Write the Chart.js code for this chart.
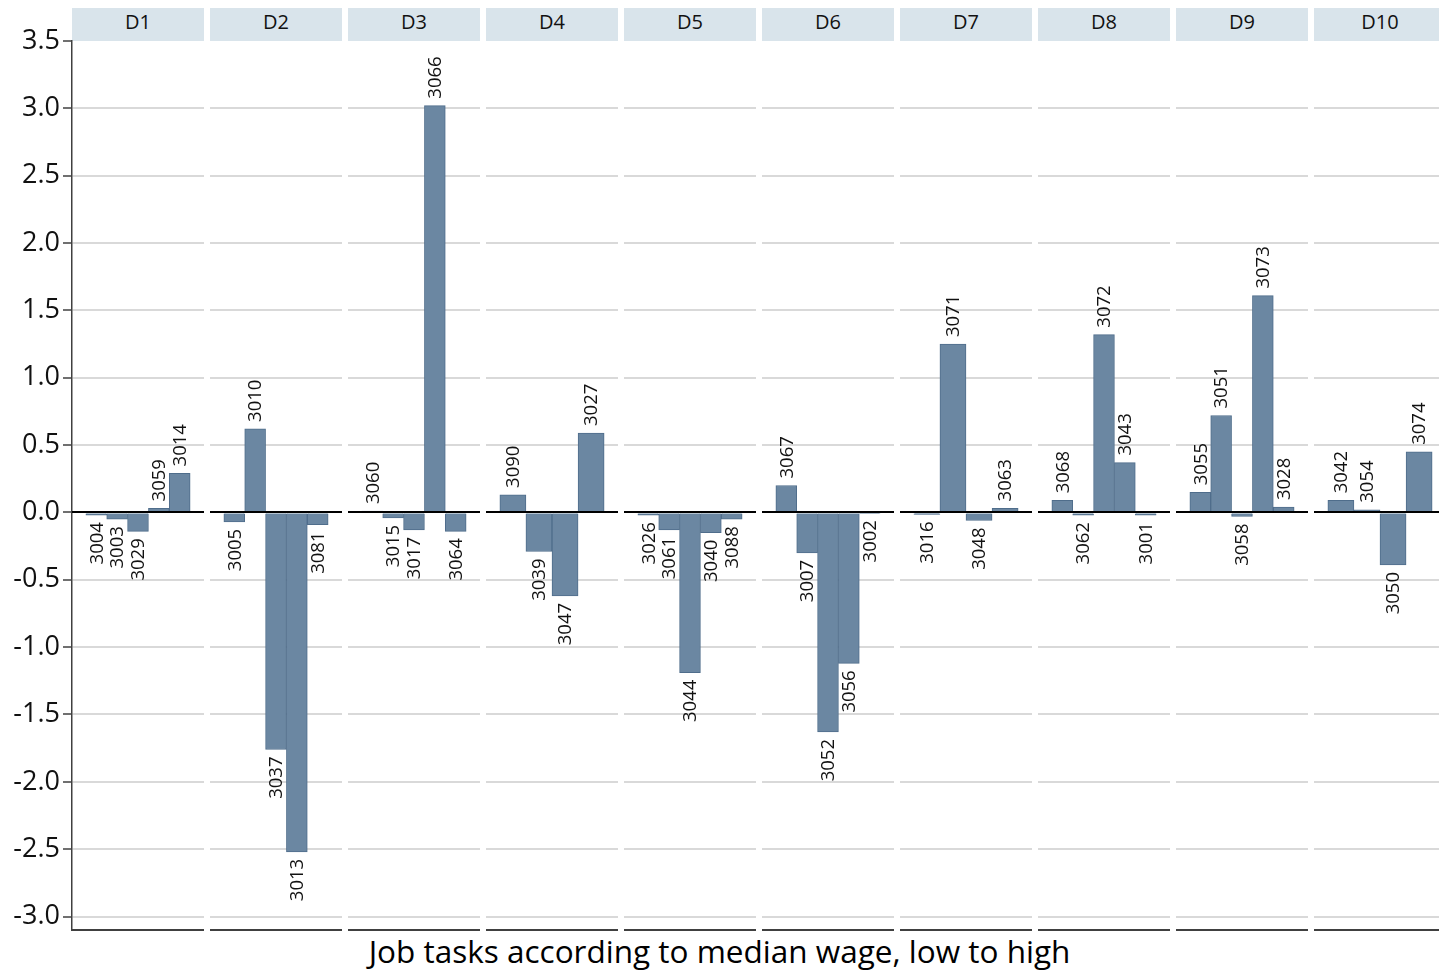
<!DOCTYPE html>
<html>
<head>
<meta charset="utf-8">
<title>Job tasks by wage decile</title>
<script src="https://cdn.jsdelivr.net/npm/chart.js@4.4.1/dist/chart.umd.min.js"></script>
<style>
  html, body { margin: 0; padding: 0; background: #fff; overflow: hidden; }
  #stage { position: relative; width: 1439px; height: 970px; overflow: hidden; }
  #stage canvas { position: absolute; top: 0; }
  .strip {
    position: absolute; top: 8px; height: 33px; width: 132px;
    background: #d9e4eb; color: #111; text-align: center;
    font: 20px "Open Sans", sans-serif; line-height: 27px;
  }
  #xtitle {
    position: absolute; left: 0; top: 931px; width: 1439px; text-align: center;
    font: 31.5px "Open Sans", sans-serif; line-height: 40px; color: #000;
  }
</style>
</head>
<body>
<div id="stage">
  <div id="xtitle">Job tasks according to median wage, low to high</div>
</div>
<script>
// Wage deciles (one panel each)
const deciles = ['D1', 'D2', 'D3', 'D4', 'D5', 'D6', 'D7', 'D8', 'D9', 'D10'];

// Task codes inside each decile, in drawing order
const taskCodes = [
  ['3004', '3003', '3029', '3059', '3014'],
  ['3005', '3010', '3037', '3013', '3081'],
  ['3060', '3015', '3017', '3066', '3064'],
  ['3090', '3039', '3047', '3027'],
  ['3026', '3061', '3044', '3040', '3088'],
  ['3067', '3007', '3052', '3056', '3002'],
  ['3016', '3071', '3048', '3063'],
  ['3068', '3062', '3072', '3043', '3001'],
  ['3055', '3051', '3058', '3073', '3028'],
  ['3042', '3054', '3050', '3074']
];

// Change for each task
const taskValues = [
  [-0.02, -0.05, -0.14, 0.03, 0.29],
  [-0.07, 0.62, -1.76, -2.52, -0.09],
  [0.01, -0.04, -0.13, 3.02, -0.14],
  [0.13, -0.29, -0.62, 0.59],
  [-0.02, -0.13, -1.19, -0.15, -0.05],
  [0.20, -0.30, -1.63, -1.12, -0.005],
  [-0.015, 1.25, -0.06, 0.03],
  [0.09, -0.02, 1.32, 0.37, -0.02],
  [0.15, 0.72, -0.03, 1.61, 0.04],
  [0.09, 0.02, -0.39, 0.45]
];

// Value axis
const yTickValues = [-3.0, -2.5, -2.0, -1.5, -1.0, -0.5, 0.0, 0.5, 1.0, 1.5, 2.0, 2.5, 3.0, 3.5];
const yMin = -3.1;
const yMax = 3.5;

// Panel geometry
const PANEL_LEFT = 72, PANEL_W = 132, PANEL_STEP = 138, CANVAS_H = 970;
const PLOT_TOP = 41, PLOT_BOTTOM = 930;
const BAR_FILL = 0.79; // share of the panel width covered by the bars

const FONT = '"Open Sans", sans-serif';

// Zero line and rotated task codes
const barLabels = {
  id: 'barLabels',
  afterDatasetsDraw(chart) {
    const { ctx, chartArea, scales } = chart;
    const y0 = Math.round(scales.y.getPixelForValue(0));
    ctx.save();
    ctx.strokeStyle = '#000';
    ctx.lineWidth = 2;
    ctx.beginPath();
    ctx.moveTo(chartArea.left, y0);
    ctx.lineTo(chartArea.right, y0);
    ctx.stroke();

    const ds = chart.data.datasets[0];
    const meta = chart.getDatasetMeta(0);
    ctx.font = '18.5px ' + FONT;
    ctx.fillStyle = '#111';
    ctx.textBaseline = 'middle';
    meta.data.forEach((bar, i) => {
      const v = ds.data[i].y;
      ctx.save();
      if (v >= 0) {
        ctx.translate(bar.x, bar.y - 7);
        ctx.textAlign = 'left';
      } else {
        ctx.translate(bar.x, bar.y + 7);
        ctx.textAlign = 'right';
      }
      ctx.rotate(-Math.PI / 2);
      ctx.fillText(ds.codes[i], 0, 1);
      ctx.restore();
    });
    ctx.restore();
  }
};

function buildPanel(p) {
  const stage = document.getElementById('stage');
  const first = p === 0;
  const panelLeft = PANEL_LEFT + PANEL_STEP * p;
  const canvasLeft = first ? 0 : panelLeft;
  const canvasW = first ? PANEL_LEFT + PANEL_W : PANEL_W;

  const strip = document.createElement('div');
  strip.className = 'strip';
  strip.style.left = panelLeft + 'px';
  strip.textContent = deciles[p];
  stage.appendChild(strip);

  const canvas = document.createElement('canvas');
  canvas.width = canvasW;
  canvas.height = CANVAS_H;
  canvas.style.left = canvasLeft + 'px';
  canvas.style.width = canvasW + 'px';
  canvas.style.height = CANVAS_H + 'px';
  stage.appendChild(canvas);

  const codes = taskCodes[p];
  const vals = taskValues[p];
  const n = vals.length;
  const span = n / BAR_FILL;
  const side = (span - n) / 2;

  new Chart(canvas, {
    type: 'bar',
    data: {
      labels: codes,
      datasets: [{
        codes: codes,
        data: vals.map((v, i) => ({ x: i, y: v })),
        backgroundColor: '#6b87a2',
        borderColor: '#4f6d8b',
        borderWidth: 1,
        barPercentage: 1,
        categoryPercentage: 1
      }]
    },
    options: {
      responsive: false,
      animation: false,
      devicePixelRatio: 1,
      layout: { padding: { top: PLOT_TOP, bottom: CANVAS_H - PLOT_BOTTOM, left: 0, right: 0 } },
      plugins: { legend: { display: false }, tooltip: { enabled: false }, title: { display: false } },
      scales: {
        x: {
          type: 'linear',
          position: 'bottom',
          offset: false,
          min: -0.5 - side,
          max: n - 0.5 + side,
          afterBuildTicks: (s) => { s.ticks = vals.map((v, i) => ({ value: i })); },
          afterFit: (s) => { s.height = 0; },
          ticks: { display: false },
          grid: { display: false, drawTicks: false },
          border: { display: true, color: '#404040', width: 2 }
        },
        y: {
          type: 'linear',
          min: yMin,
          max: yMax,
          afterBuildTicks: (s) => { s.ticks = yTickValues.map(v => ({ value: v })); },
          afterFit: (s) => { s.width = first ? PANEL_LEFT : 0; },
          ticks: {
            display: first,
            padding: 3,
            color: '#111',
            font: { family: FONT, size: 27 },
            callback: (v) => v.toFixed(1)
          },
          grid: {
            display: true,
            drawTicks: first,
            tickLength: 9,
            tickWidth: 1.5,
            tickColor: '#404040',
            lineWidth: 2,
            color: (c) => (c.tick && c.tick.value === yMax) ? 'rgba(0,0,0,0)' : '#d9d9d9'
          },
          border: { display: first, color: '#404040', width: 1.5 }
        }
      }
    },
    plugins: [barLabels]
  });
}

function drawAll() {
  deciles.forEach((d, p) => buildPanel(p));
}

const fontsReady = document.fonts && document.fonts.load
  ? Promise.all([
      document.fonts.load('27px "Open Sans"'),
      document.fonts.load('18.5px "Open Sans"')
    ]).catch(() => null)
  : Promise.resolve();
fontsReady.then(drawAll, drawAll);
</script>
</body>
</html>
